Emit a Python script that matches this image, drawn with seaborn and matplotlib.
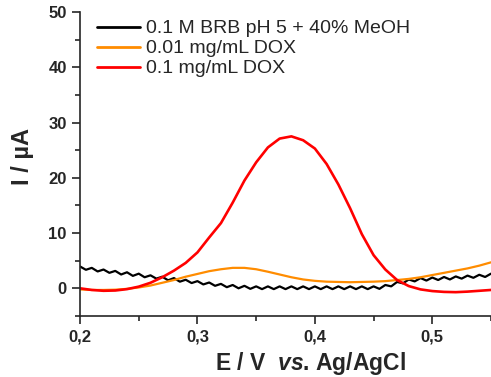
import numpy as np
import pandas as pd
import seaborn as sns
import matplotlib.pyplot as plt
from matplotlib.ticker import MultipleLocator

# potential grids (V vs Ag/AgCl)
e_coarse = np.round(np.arange(0.20, 0.5501, 0.01), 3)
e_fine = np.round(np.arange(0.20, 0.5501, 0.005), 3)

# blank: 0.1 M BRB pH 5 + 40% MeOH (read at 0.005 V steps, keeps the ripple)
i_blank = [3.95, 3.35, 3.7, 3.05, 3.4, 2.8, 3.15, 2.5, 2.9, 2.25,
           2.65, 2.0, 2.35, 1.75, 2.1, 1.45, 1.85, 1.2, 1.55, 0.95,
           1.3, 0.7, 1.05, 0.45, 0.8, 0.2, 0.6, 0.0, 0.45, -0.1,
           0.35, -0.15, 0.35, -0.15, 0.35, -0.15, 0.35, -0.15, 0.35, -0.15,
           0.35, -0.15, 0.35, -0.15, 0.35, -0.15, 0.35, -0.15, 0.35, -0.15,
           0.35, -0.1, 0.6, 0.35, 1.15, 0.9, 1.6, 1.25, 1.85, 1.4,
           1.95, 1.5, 2.05, 1.6, 2.15, 1.75, 2.3, 1.9, 2.45, 2.05, 2.65]

# 0.01 mg/mL DOX
i_dox_low = [-0.2, -0.3, -0.3, -0.25, -0.1, 0.15, 0.5, 1.0, 1.5, 2.1,
             2.6, 3.1, 3.45, 3.7, 3.7, 3.45, 3.0, 2.5, 2.0, 1.6,
             1.35, 1.2, 1.15, 1.1, 1.15, 1.2, 1.3, 1.5, 1.7, 2.0,
             2.4, 2.8, 3.2, 3.6, 4.1, 4.7]

# 0.1 mg/mL DOX
i_dox_high = [0.0, -0.3, -0.45, -0.4, -0.15, 0.3, 1.0, 2.0, 3.2, 4.6,
              6.5, 9.2, 11.8, 15.5, 19.5, 22.8, 25.5, 27.1, 27.5, 26.8,
              25.3, 22.5, 18.8, 14.5, 9.8, 6.0, 3.4, 1.5, 0.4, -0.2,
              -0.5, -0.65, -0.7, -0.6, -0.45, -0.3]

labels = ['0.1 M BRB pH 5 + 40% MeOH', '0.01 mg/mL DOX', '0.1 mg/mL DOX']
colors = ['black', '#ff8c00', '#ff0000']
widths = [1.6, 1.6, 1.9]

df = pd.concat([
    pd.DataFrame({'E': e_fine, 'I': i_blank, 'sample': labels[0]}),
    pd.DataFrame({'E': e_coarse, 'I': i_dox_low, 'sample': labels[1]}),
    pd.DataFrame({'E': e_coarse, 'I': i_dox_high, 'sample': labels[2]}),
])

sns.set_style("ticks")
plt.rcParams['font.family'] = ['Liberation Sans', 'DejaVu Sans']
plt.rcParams['mathtext.fontset'] = 'custom'
plt.rcParams['mathtext.it'] = 'Liberation Sans:italic:bold'

fig = plt.figure(figsize=(4.91, 3.77), dpi=100)
ax = fig.add_axes([0.163, 0.162, 0.837, 0.806])

sns.lineplot(data=df, x='E', y='I', hue='sample', palette=dict(zip(labels, colors)),
             linewidth=1.6, ax=ax, estimator=None, sort=False)
for line, w in zip(ax.get_lines(), widths):
    line.set_linewidth(w)

ax.set_xlim(0.2, 0.55)
ax.set_ylim(-5, 50)
ax.xaxis.set_minor_locator(MultipleLocator(0.05))
ax.yaxis.set_major_locator(MultipleLocator(10))
ax.yaxis.set_minor_locator(MultipleLocator(5))
ax.set_xticks([0.2, 0.3, 0.4, 0.5])
ax.set_xticklabels(['0,2', '0,3', '0,4', '0,5'])
ax.tick_params(which='major', length=6, width=1.2, labelsize=12)
ax.tick_params(which='minor', length=3.5, width=1.2)
for lab in ax.get_xticklabels() + ax.get_yticklabels():
    lab.set_fontweight('bold')

sns.despine(ax=ax)
for s in ['left', 'bottom']:
    ax.spines[s].set_linewidth(1.2)

ax.set_xlabel('E / V  $\\it{vs}$. Ag/AgCl', fontsize=16.5, fontweight='bold')
ax.set_ylabel('I / \u00b5A', fontsize=17, fontweight='bold')
ax.xaxis.set_label_coords(0.56, -0.112)
ax.yaxis.set_label_coords(-0.112, 0.526)

leg = ax.legend(loc='upper left', frameon=False, fontsize=14, handlelength=2.2,
                borderaxespad=0.0, labelspacing=0.12, handletextpad=0.3,
                bbox_to_anchor=(0.023, 1.0))
for h, w in zip(leg.get_lines(), widths):
    h.set_linewidth(2)

plt.savefig('out.png', dpi=100)
